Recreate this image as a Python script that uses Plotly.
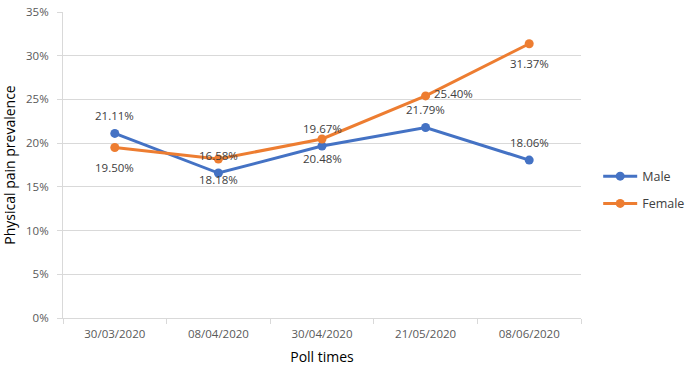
import plotly.graph_objects as go

poll_times = ["30/03/2020", "08/04/2020", "30/04/2020", "21/05/2020", "08/06/2020"]
male = [21.11, 16.58, 19.67, 21.79, 18.06]
female = [19.50, 18.18, 20.48, 25.40, 31.37]
y_ticks = [0, 5, 10, 15, 20, 25, 30, 35]

font = "Open Sans"
label_font = dict(color="#404040", size=11.5, family=font)

fig = go.Figure()
fig.add_trace(go.Scatter(
    x=poll_times, y=male, name="Male", mode="lines+markers", legendgroup="m",
    line=dict(color="#4472C4", width=3), marker=dict(size=9, color="#4472C4"),
    cliponaxis=False))
fig.add_trace(go.Scatter(
    x=poll_times, y=female, name="Female", mode="lines+markers", legendgroup="f",
    line=dict(color="#ED7D31", width=3), marker=dict(size=9, color="#ED7D31"),
    cliponaxis=False))

# data labels (male above, female below; 21/05 female to the right)
for xv, yv in zip(poll_times, male):
    fig.add_annotation(x=xv, y=yv, text=f"{yv:.2f}%", showarrow=False,
                       yshift=18, font=label_font)
for i, (xv, yv) in enumerate(zip(poll_times, female)):
    if i == 3:
        fig.add_annotation(x=xv, y=yv, text=f"{yv:.2f}%", showarrow=False,
                           xanchor="left", xshift=6, yshift=2, font=label_font)
    else:
        fig.add_annotation(x=xv, y=yv, text=f"{yv:.2f}%", showarrow=False,
                           yshift=-20, font=label_font)

fig.update_layout(
    width=686, height=369,
    margin=dict(l=63, r=105, t=12, b=51, autoexpand=False),
    paper_bgcolor="white", plot_bgcolor="white",
    font=dict(family=font, size=11.5, color="#595959"),
    showlegend=True,
    legend=dict(xref="container", yref="container", x=0.872, y=0.485,
                xanchor="left", yanchor="middle",
                font=dict(size=12.5, color="#404040", family=font),
                itemwidth=34, tracegroupgap=8),
    xaxis=dict(
        type="category", range=[-0.5, 4.5], automargin=False,
        showline=True, linecolor="#D9D9D9", linewidth=1,
        ticks="outside", tickson="boundaries", ticklen=5, tickcolor="#D9D9D9",
        showgrid=False, ticklabelstandoff=5,
        tickfont=dict(size=11.5, color="#595959"),
        title=dict(text="Poll times", font=dict(size=14, color="#000000"), standoff=12),
    ),
    yaxis=dict(
        range=[0, 35], tickvals=y_ticks, ticktext=[f"{v}%" for v in y_ticks],
        automargin=False,
        showline=True, linecolor="#D9D9D9", linewidth=1,
        ticks="outside", ticklen=5, tickcolor="#D9D9D9",
        showgrid=True, gridcolor="#D9D9D9", gridwidth=1,
        zeroline=False, ticklabelstandoff=6,
        tickfont=dict(size=11.5, color="#595959"),
        title=dict(text="Physical pain prevalence", font=dict(size=14, color="#000000"), standoff=12),
    ),
)
fig.write_html("out.html", config={"displayModeBar": False},
               post_script="document.body.style.margin='0';")
